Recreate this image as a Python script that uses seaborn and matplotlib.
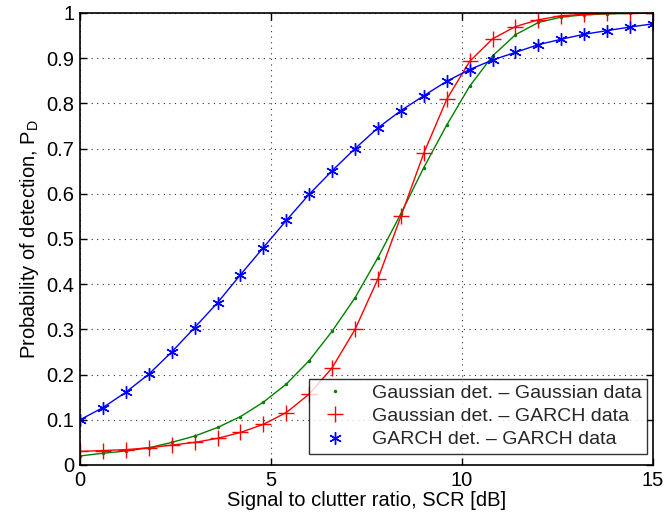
import numpy as np
import pandas as pd
import matplotlib
matplotlib.use("Agg")
import matplotlib.pyplot as plt
from matplotlib.lines import Line2D
import seaborn as sns

scr = [0.0, 0.6, 1.2, 1.8, 2.4, 3.0, 3.6, 4.2, 4.8, 5.4, 6.0, 6.6, 7.2, 7.8,
       8.4, 9.0, 9.6, 10.2, 10.8, 11.4, 12.0, 12.6, 13.2, 13.8, 14.4, 15.0]

gauss_gauss = [0.020, 0.026, 0.031, 0.038, 0.050, 0.064, 0.083, 0.107, 0.139,
               0.179, 0.231, 0.296, 0.370, 0.459, 0.556, 0.658, 0.752, 0.838,
               0.905, 0.952, 0.979, 0.991, 0.996, 0.998, 0.999, 1.000]

gauss_garch = [0.030, 0.032, 0.034, 0.038, 0.044, 0.050, 0.059, 0.072, 0.090,
               0.116, 0.157, 0.215, 0.300, 0.412, 0.550, 0.690, 0.809, 0.893,
               0.943, 0.970, 0.985, 0.994, 0.997, 0.999, 1.000, 1.000]

garch_garch = [0.100, 0.127, 0.161, 0.201, 0.250, 0.304, 0.359, 0.421, 0.481,
               0.541, 0.599, 0.651, 0.700, 0.746, 0.784, 0.817, 0.849, 0.875,
               0.896, 0.913, 0.930, 0.942, 0.953, 0.961, 0.969, 0.976]

labels = ["Gaussian det. \u2013 Gaussian data",
          "Gaussian det. \u2013 GARCH data",
          "GARCH det. \u2013 GARCH data"]

sns.set_theme(style="white")
plt.rcParams['font.family'] = ['Liberation Sans', 'DejaVu Sans']

fig = plt.figure(figsize=(6.64, 5.2), dpi=100)
ax = fig.add_axes([80/664, 55/520, 573/664, 452/520])

green = "#008000"
red = "#ff0000"
blue = "#0000ff"

sns.lineplot(x=scr, y=gauss_gauss, ax=ax, color=green, lw=1.0, marker='.',
             markersize=5, markeredgewidth=0, markerfacecolor=green)
sns.lineplot(x=scr, y=gauss_garch, ax=ax, color=red, lw=1.0, marker='+',
             markersize=11, markeredgewidth=1.0, markeredgecolor=red)
sns.lineplot(x=scr, y=garch_garch, ax=ax, color=blue, lw=1.0)
ax.plot(scr, garch_garch, linestyle='none', marker=(6, 2, 0), color=blue,
        markersize=9, markeredgewidth=1.0)

ax.set_xlim(0, 15)
ax.set_ylim(0, 1)
ax.set_xticks([0, 5, 10, 15])
ax.set_yticks(np.round(np.arange(0, 1.01, 0.1), 1))
ax.set_yticklabels(["0", "0.1", "0.2", "0.3", "0.4", "0.5", "0.6", "0.7",
                    "0.8", "0.9", "1"])
ax.grid(True, linestyle=(0, (1, 4)), color="#333333", linewidth=0.8)
for s in ax.spines.values():
    s.set_color("black")
    s.set_linewidth(1.2)
ax.tick_params(direction='in', length=5, width=1, colors='black',
               labelsize=14.5, top=True, right=True, bottom=True, left=True,
               pad=4)
ax.set_xlabel("Signal to clutter ratio, SCR [dB]", fontsize=14.5, color='black',
              labelpad=1)
ax.set_ylabel("Probability of detection, P$_\\mathregular{D}$", fontsize=14.5,
              color='black', labelpad=4)

h1 = Line2D([], [], linestyle='none', marker='.', color=green, markersize=5,
            markeredgewidth=0)
h2 = Line2D([], [], linestyle='none', marker='+', color=red, markersize=11,
            markeredgewidth=1.0)
h3 = Line2D([], [], linestyle='none', marker=(6, 2, 0), color=blue,
            markersize=9, markeredgewidth=1.0)
leg = ax.legend([h1, h2, h3], labels, loc='lower right', fontsize=14,
                frameon=True, fancybox=False, edgecolor='black',
                bbox_to_anchor=(0.99, 0.024), borderpad=0.3,
                labelspacing=0.28, handletextpad=0.9, handlelength=2.0,
                borderaxespad=0)
leg.get_frame().set_linewidth(1.0)

fig.savefig("out.png", dpi=100, facecolor='white')
